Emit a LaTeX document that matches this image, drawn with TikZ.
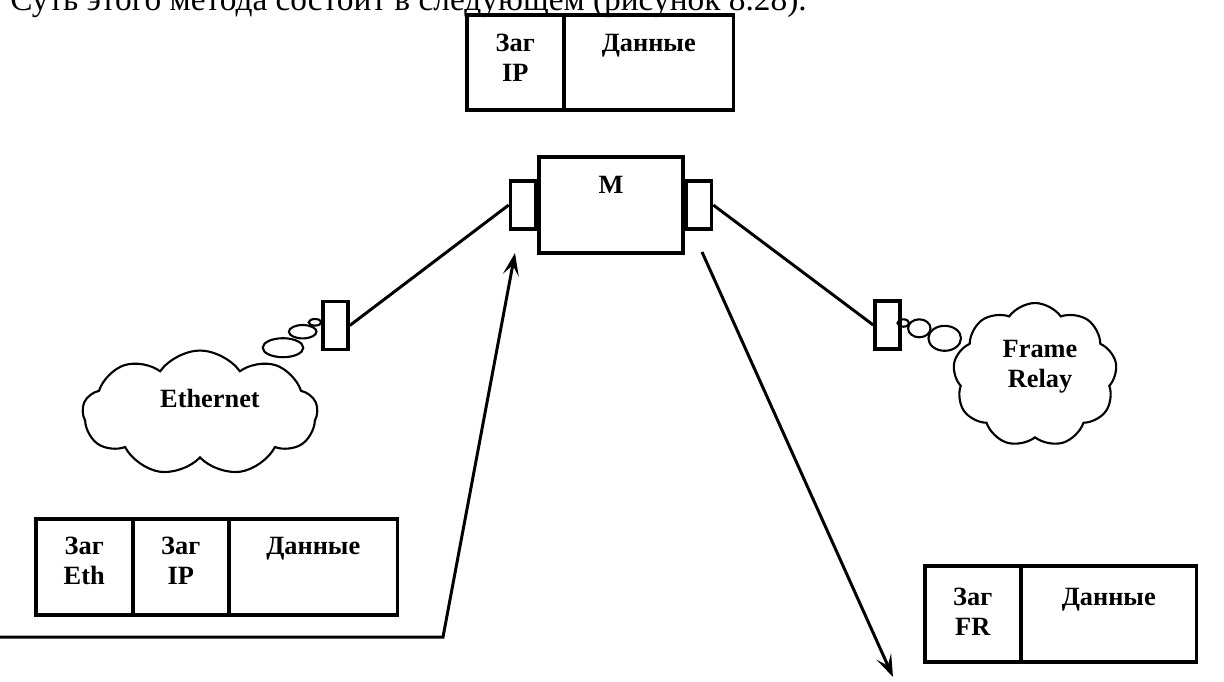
\documentclass[tikz,border=0pt]{standalone}
\usepackage{fontspec}
\setmainfont{Liberation Serif}
\usetikzlibrary{positioning,shapes.symbols,arrows.meta}
\begin{document}
\begin{tikzpicture}[x=0.02cm, y=-0.02cm,
    cell/.style={draw, line width=2pt, anchor=north west, inner sep=0pt, minimum height=1.92cm},
    celltext/.style={font=\bfseries\fontsize{15}{17}\selectfont, align=center, inner sep=0pt},
    port/.style={draw, line width=2pt, inner sep=0pt, minimum width=0.5cm, minimum height=0.96cm},
    netcloud/.style={draw, cloud, cloud puffs=9, cloud puff arc=110, cloud ignores aspect, line width=1.2pt, inner sep=0pt},
    link/.style={line width=1.7pt},
    flow/.style={line width=1.7pt, -{Stealth[length=0.45cm, width=0.32cm, inset=0.2cm]}},
    bubble/.style={line width=1.2pt}]
  \useasboundingbox (0,0) rectangle (1224,681);

  % Text line above the figure
  \node[anchor=base west, inner sep=0pt, font=\fontsize{19}{22}\selectfont] (intro) at (10,10) {Суть этого метода состоит в следующем (рисунок 8.28).};

  % IP packet
  \node[cell, minimum width=1.94cm, minimum height=1.9cm] (ipHead) at (465,13) {};
  \node[cell, minimum width=3.4cm, minimum height=1.9cm] (ipData) at (562,13) {};
  \node[celltext, below=0.42cm of ipHead.north] (ipHeadTxt) {Заг\\IP};
  \node[celltext, below=0.42cm of ipData.north] (ipDataTxt) {Данные};

  % Router with its two ports
  \node[draw, line width=2pt, minimum width=2.88cm, minimum height=1.92cm] (router) at (611,205) {};
  \node[celltext, below=0.42cm of router.north] (routerTxt) {М};
  \node[port, left=0pt of router] (portL) {};
  \node[port, right=0pt of router] (portR) {};

  % Network ports and links
  \node[port] (portEth) at (335.5,325.5) {};
  \node[port] (portFR) at (887.5,325) {};
  \draw[link] (portL.west) -- (portEth.east);
  \draw[link] (portR.east) -- (portFR.west);

  % Bubbles
  \foreach \cx/\cy/\rx/\ry in {315/322.3/0.126/0.066, 302.7/331.7/0.276/0.134, 283/347.7/0.406/0.19,
      903.3/323/0.116/0.074, 919.3/328.3/0.224/0.18, 944.7/338.3/0.326/0.25}
    \draw[bubble] (\cx,\cy) ellipse [x radius=\rx cm, y radius=\ry cm];

  % Clouds
  \node[netcloud, minimum width=4.7cm, minimum height=2.5cm] (ethNet) at (200,413) {};
  \node[celltext] (ethTxt) at (210,398) {Ethernet};
  \node[netcloud, minimum width=3.28cm, minimum height=2.88cm] (frNet) at (1035,375) {};
  \node[celltext] (frTxt) at (1040,367) {Frame\\Relay};

  % Ethernet frame
  \node[cell, minimum width=1.94cm] (ethHead) at (34,517) {};
  \node[cell, minimum width=1.92cm] (ethIp) at (131,517) {};
  \node[cell, minimum width=3.38cm] (ethData) at (227,517) {};
  \node[celltext, below=0.4cm of ethHead.north] (ethHeadTxt) {Заг\\Eth};
  \node[celltext, below=0.4cm of ethIp.north] (ethIpTxt) {Заг\\IP};
  \node[celltext, below=0.4cm of ethData.north] (ethDataTxt) {Данные};

  % Frame Relay frame
  \node[cell, minimum width=1.92cm] (frHead) at (923,564) {};
  \node[cell, minimum width=3.52cm] (frData) at (1019,564) {};
  \node[celltext, below=0.48cm of frHead.north] (frHeadTxt) {Заг\\FR};
  \node[celltext, below=0.48cm of frData.north] (frDataTxt) {Данные};

  % Frame path through the router
  \coordinate (inStart) at (0,637);
  \coordinate (inBend) at (443,637);
  \coordinate (inTip) at (515,253);
  \draw[flow] (inStart) -- (inBend) -- (inTip);
  \coordinate (outStart) at (702,252);
  \coordinate (outTip) at (893,677);
  \draw[flow] (outStart) -- (outTip);
\end{tikzpicture}
\end{document}
